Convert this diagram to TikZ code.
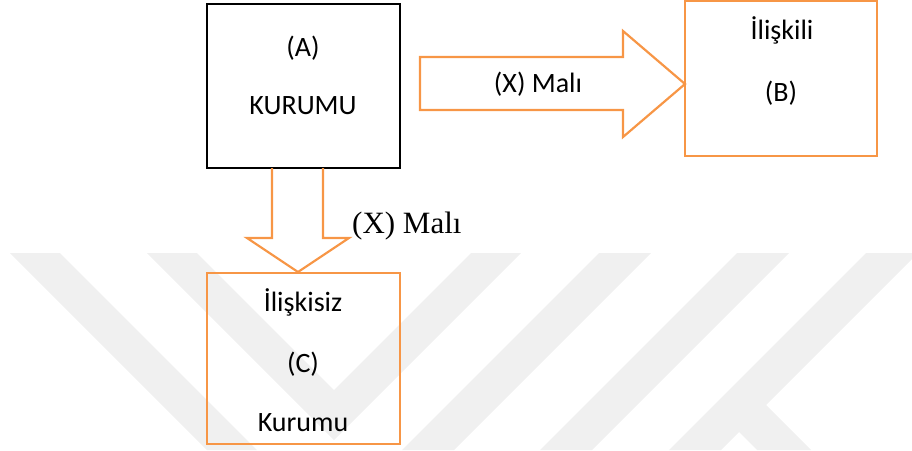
\documentclass[tikz,border=0pt]{standalone}
\usepackage{fontspec}
\setmainfont{Carlito}
\newfontfamily\serifx{Liberation Serif}
\definecolor{orng}{RGB}{247,150,70}
\definecolor{wm}{RGB}{240,240,240}
\tikzset{
  box/.style={draw, line width=2.4pt, inner sep=0pt, outer sep=0pt},
  obox/.style={box, draw=orng},
  kbox/.style={box, draw=black},
  lbl/.style={anchor=base, inner sep=0pt, font=\fontsize{28}{28}\selectfont},
  slbl/.style={anchor=base west, inner sep=0pt, font=\serifx\fontsize{31}{31}\selectfont},
  blockarrow/.style={draw=orng, line width=2.2pt, line join=miter},
  wmark/.style={fill=wm, draw=none}
}
\begin{document}
\begin{tikzpicture}[x=1pt,y=-1pt]
\useasboundingbox (0,0) rectangle (912,450);
% watermark
\begin{scope}
\clip (0,0) rectangle (912,450);
\fill[wmark] (10,253) -- (60,253) -- (257,450) -- (207,450) -- cycle;
\fill[wmark] (147,253) -- (197,253) -- (334,390) -- (471,253) -- (521,253) -- (334,440) -- cycle;
\fill[wmark] (599,253) -- (651,253) -- (454,450) -- (402,450) -- cycle;
\fill[wmark] (737,253) -- (789,253) -- (592,450) -- (540,450) -- cycle;
\fill[wmark] (866,253) -- (918,253) -- (766,405) -- (811,450) -- (757,450) -- (739,432) -- (721,450) -- (669,450) -- cycle;
\end{scope}
% boxes
\node[kbox, minimum width=193pt, minimum height=164pt] (A) at (303.5,86) {};
\node[obox, minimum width=192pt, minimum height=155pt] (B) at (781,78.5) {};
\node[obox, minimum width=193pt, minimum height=171pt] (C) at (303.5,358.5) {};
% arrows
\coordinate (htip) at (685,84);
\coordinate (vtip) at (298,272);
\draw[blockarrow] (420,57) -- (623,57) -- (623,31) -- (htip) -- (623,137) -- (623,110) -- (420,110) -- cycle;
\draw[blockarrow] (272,168) -- (272,238) -- (247,238) -- (vtip) -- (349,238) -- (323,238) -- (323,168);
% texts
\node[lbl] (ta1) at (303,56) {(A)};
\node[lbl] (ta2) at (303,114) {KURUMU};
\node[lbl] (tb1) at (782,39) {İlişkili};
\node[lbl] (tb2) at (781,101) {(B)};
\node[lbl] (tx1) at (538,92) {(X) Malı};
\node[lbl] (tc1) at (303,311) {İlişkisiz};
\node[lbl] (tc2) at (303,372) {(C)};
\node[lbl] (tc3) at (303,431) {Kurumu};
\node[slbl] (tx2) at (352,233) {(X) Malı};
\end{tikzpicture}
\end{document}
